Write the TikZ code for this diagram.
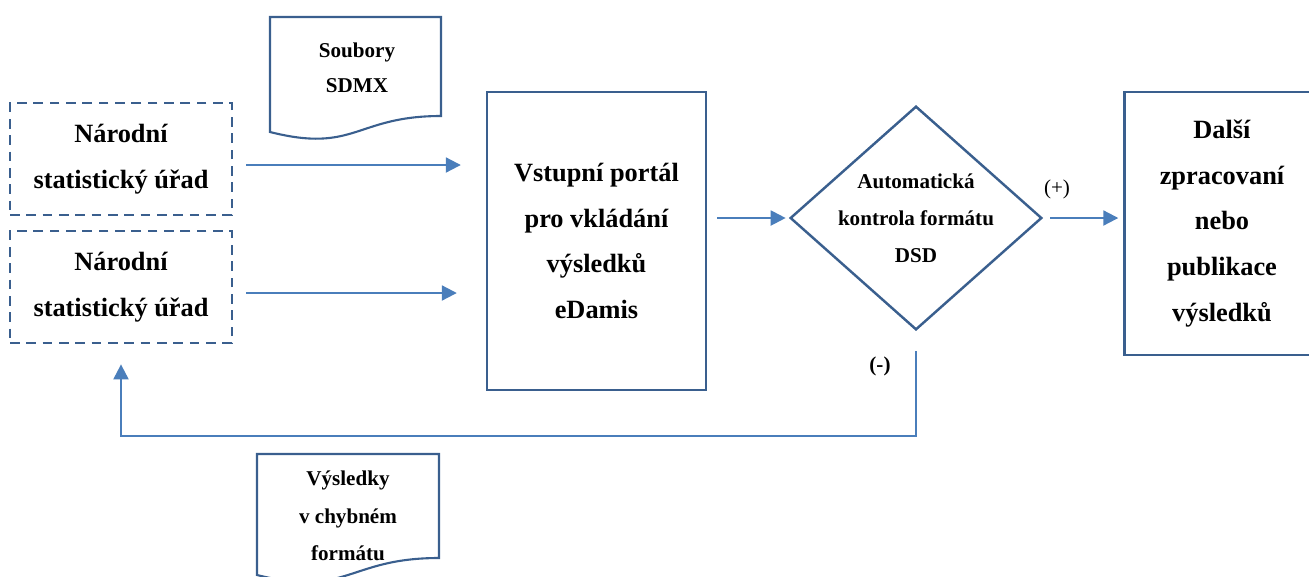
\documentclass[tikz,border=0pt]{standalone}
\usepackage{fontspec}
\setmainfont{Liberation Serif}
\usetikzlibrary{arrows.meta}
\definecolor{edgeblue}{HTML}{3A5F8E}
\definecolor{flowblue}{HTML}{4A7EBB}
\begin{document}
\begin{tikzpicture}[x=0.02cm,y=-0.02cm,
  bigtext/.style={align=center,font=\fontsize{15}{26}\selectfont\bfseries},
  smalltext/.style={align=center,font=\fontsize{12}{21}\selectfont\bfseries},
  dashbox/.style={bigtext,draw=edgeblue,line width=1.6pt,dash pattern=on 5.5pt off 3.8pt,minimum width=4.44cm,minimum height=2.24cm},
  plainbox/.style={bigtext,draw=edgeblue,line width=1.4pt},
  doc/.style={draw=edgeblue,line width=1.2pt},
  flow/.style={draw=flowblue,line width=1.2pt,-{Triangle[length=8.5pt,width=8.5pt]}}]
\clip (0,0) rectangle (1309,576);
\draw[doc] (441,116) .. controls (355.5,116) and (355.5,153.6) .. (270,132) -- (270,17) -- (441,17) -- cycle;
\node[smalltext,font=\fontsize{12}{20}\selectfont\bfseries] (sdmx) at (357,68) {Soubory\\SDMX};
\node[dashbox] (nsu1) at (121,159) {Národní\\statistický úřad};
\node[dashbox] (nsu2) at (121,287) {Národní\\statistický úřad};
\node[plainbox,minimum width=4.38cm,minimum height=5.96cm] (portal) at (596.5,241) {Vstupní portál\\pro vkládání\\výsledků\\eDamis};
\node[smalltext,minimum width=5cm,minimum height=4.44cm] (check) at (916,218) {Automatická\\kontrola formátu\\DSD};
\draw[doc,line width=1.4pt] (check.north) -- (check.east) -- (check.south) -- (check.west) -- cycle;
\node[plainbox,minimum width=3.9cm,minimum height=5.26cm] (next) at (1222,223.5) {Další\\zpracovaní\\nebo\\publikace\\výsledků};
\draw[doc] (439,558) .. controls (348,558) and (348,597.6) .. (257,575) -- (257,454) -- (439,454) -- cycle;
\node[smalltext,font=\fontsize{12}{21.5}\selectfont\bfseries] (fault) at (348,516) {Výsledky\\v chybném\\formátu};
\node[font=\fontsize{12}{14}\selectfont] (plus) at (1057,189) {(+)};
\node[font=\fontsize{12}{14}\selectfont\bfseries] (minus) at (880,366) {(-)};
\coordinate (turn) at (500,436);
\draw[flow,shorten <=0.26cm,shorten >=0.5cm] ([yshift=-0.12cm]nsu1.east) -- ([yshift=-0.12cm]nsu1.east -| portal.west);
\draw[flow,shorten <=0.26cm,shorten >=0.58cm] ([yshift=-0.12cm]nsu2.east) -- ([yshift=-0.12cm]nsu2.east -| portal.west);
\draw[flow,shorten <=0.2cm,shorten >=0.1cm] (portal.east |- check.west) -- (check.west);
\draw[flow,shorten <=0.18cm,shorten >=0.1cm] (check.east) -- (check.east -| next.west);
\draw[flow,shorten <=0.44cm,shorten >=0.4cm] (check.south) |- (turn) -| (nsu2.south);
\end{tikzpicture}
\end{document}
